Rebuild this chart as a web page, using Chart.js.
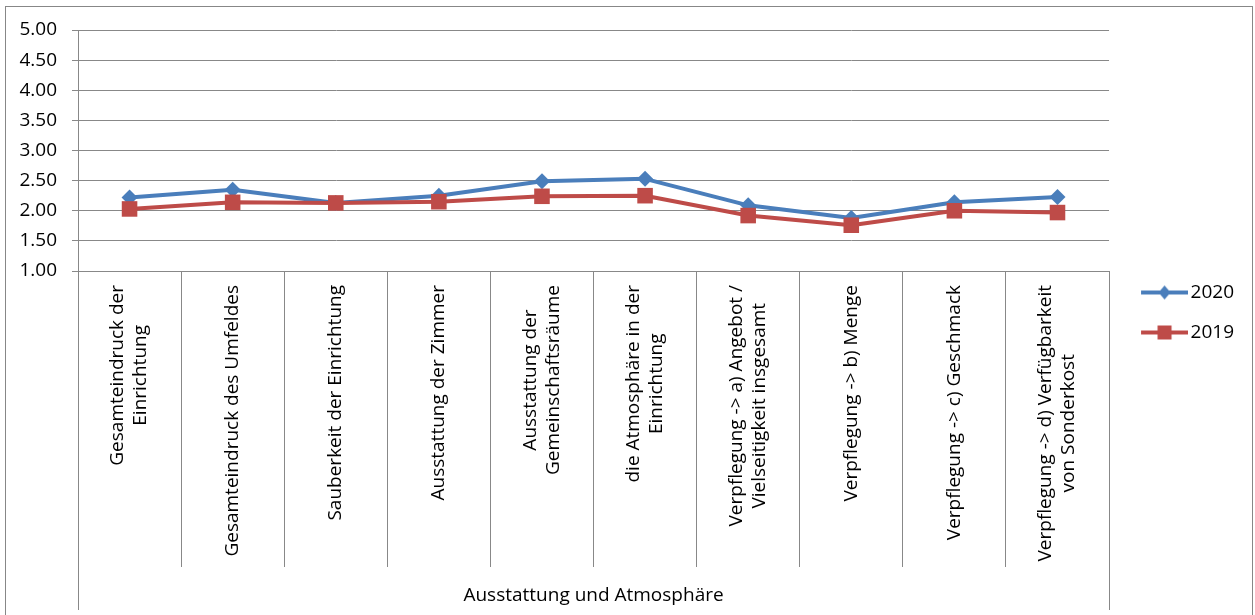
<!DOCTYPE html>
<html>
<head>
<meta charset="utf-8">
<script src="https://cdn.jsdelivr.net/npm/chart.js@4.4.1/dist/chart.umd.min.js"></script>
<style>
  html, body { margin: 0; padding: 0; background: #fff; overflow: hidden; }
  #frame { position: absolute; left: 5px; top: 6px; width: 1246px; height: 700px; border: 1px solid #878787; }
  #chart { display: block; }
</style>
</head>
<body>
<div id="frame"><canvas id="chart" width="1246" height="608"></canvas></div>
<script>
// ── Data ─────────────────────────────────────────────────────
const categories = [
  ['Gesamteindruck der', 'Einrichtung'],
  'Gesamteindruck des Umfeldes',
  'Sauberkeit der Einrichtung',
  'Ausstattung der Zimmer',
  ['Ausstattung der', 'Gemeinschaftsräume'],
  ['die Atmosphäre in der', 'Einrichtung'],
  ['Verpflegung -> a) Angebot /', 'Vielseitigkeit insgesamt'],
  'Verpflegung -> b) Menge',
  'Verpflegung -> c) Geschmack',
  ['Verpflegung -> d) Verfügbarkeit', 'von Sonderkost'],
];
const groupLabel = 'Ausstattung und Atmosphäre';
const seriesNames = ['2020', '2019'];
const values2020 = [2.22, 2.35, 2.13, 2.25, 2.49, 2.53, 2.09, 1.88, 2.14, 2.23];
const values2019 = [2.03, 2.14, 2.13, 2.15, 2.24, 2.25, 1.92, 1.76, 2.00, 1.97];
const yMin = 1, yMax = 5, yStep = 0.5;

// ── Styles ───────────────────────────────────────────────────
const FONT = { family: '"Open Sans", sans-serif', size: 19 };
const GRID = '#888888';
const BLUE = '#4a7ebb';
const RED = '#be4b48';
const TICK_LEN = 296;

// small line+marker icons for the legend, like the office legend
function legendIcon(color, shape) {
  const c = document.createElement('canvas');
  c.width = 65; c.height = 20;
  const g = c.getContext('2d');
  g.strokeStyle = color;
  g.lineWidth = 4;
  g.beginPath(); g.moveTo(18, 10); g.lineTo(65, 10); g.stroke();
  g.fillStyle = color;
  const cx = 41.5, cy = 10;
  g.beginPath();
  if (shape === 'diamond') {
    g.moveTo(cx, cy - 7); g.lineTo(cx + 6, cy); g.lineTo(cx, cy + 7); g.lineTo(cx - 6, cy);
    g.closePath();
  } else {
    g.rect(cx - 7, cy - 7, 14, 14);
  }
  g.fill();
  return c;
}
const legendIcons = [legendIcon(BLUE, 'diamond'), legendIcon(RED, 'square')];

// rotated category labels, lines centred on each other like the original
const categoryLabels = {
  id: 'categoryLabels',
  afterDraw(chart) {
    const x = chart.scales.x;
    const ctx = chart.ctx;
    const lh = 23;
    ctx.save();
    ctx.font = `${FONT.size}px ${FONT.family}`;
    ctx.fillStyle = '#000';
    ctx.textAlign = 'center';
    ctx.textBaseline = 'middle';
    categories.forEach((label, i) => {
      const lines = [].concat(label);
      const px = x.getPixelForTick(i);
      const widest = Math.max(...lines.map(l => ctx.measureText(l).width));
      const cy = x.top + 14 + widest / 2;
      lines.forEach((line, j) => {
        ctx.save();
        ctx.translate(px + (j - (lines.length - 1) / 2) * lh, cy);
        ctx.rotate(-Math.PI / 2);
        ctx.fillText(line, 0, 0);
        ctx.restore();
      });
    });
    // outer group dividers reach down to the bottom row
    ctx.strokeStyle = GRID;
    ctx.lineWidth = 1;
    ctx.beginPath();
    [x.left, x.right].forEach(p => {
      const xp = Math.round(p) + 0.5;
      ctx.moveTo(xp, x.top + TICK_LEN);
      ctx.lineTo(xp, x.top + 339);
    });
    ctx.stroke();
    ctx.restore();
  }
};

new Chart(document.getElementById('chart'), {
  type: 'line',
  data: {
    labels: categories.map(c => [].concat(c).join(' ')),
    datasets: [
      {
        label: seriesNames[0],
        data: values2020,
        borderColor: BLUE, backgroundColor: BLUE,
        borderWidth: 4, borderJoinStyle: 'round',
        pointStyle: 'rectRot', pointRadius: 8, pointBorderWidth: 0,
        tension: 0, order: 1,
      },
      {
        label: seriesNames[1],
        data: values2019,
        borderColor: RED, backgroundColor: RED,
        borderWidth: 4, borderJoinStyle: 'round',
        pointStyle: 'rect', pointRadius: 11, pointBorderWidth: 0,
        tension: 0, order: 0,
      },
    ],
  },
  options: {
    responsive: false,
    animation: false,
    layout: { padding: { top: 23, bottom: 20, left: 0, right: 8 } },
    plugins: {
      tooltip: { enabled: false },
      legend: {
        position: 'right',
        align: 'center',
        labels: {
          usePointStyle: true,
          pointStyleWidth: 51,
          padding: 21,
          color: '#000',
          font: FONT,
          sort: (a, b) => a.datasetIndex - b.datasetIndex,
          generateLabels(chart) {
            const items = Chart.defaults.plugins.legend.labels.generateLabels(chart);
            items.forEach(it => { it.pointStyle = legendIcons[it.datasetIndex]; });
            return items;
          },
        },
      },
    },
    scales: {
      x: {
        offset: true,
        grid: { offset: true, drawOnChartArea: false, color: GRID, tickLength: TICK_LEN },
        border: { color: GRID },
        ticks: { display: false, autoSkip: false },
        title: { display: true, text: groupLabel, color: '#000', font: FONT, padding: { top: 0, bottom: -12 } },
        afterFit: s => { s.height = 324; },
      },
      y: {
        min: yMin,
        max: yMax,
        ticks: { stepSize: yStep, callback: v => v.toFixed(2), color: '#000', font: FONT, padding: 15 },
        grid: { color: GRID, tickLength: 6 },
        border: { color: GRID },
        afterFit: s => { s.width = 72; s.paddingTop = 0; s.paddingBottom = 0; },
      },
    },
  },
  plugins: [categoryLabels],
});
</script>
</body>
</html>
